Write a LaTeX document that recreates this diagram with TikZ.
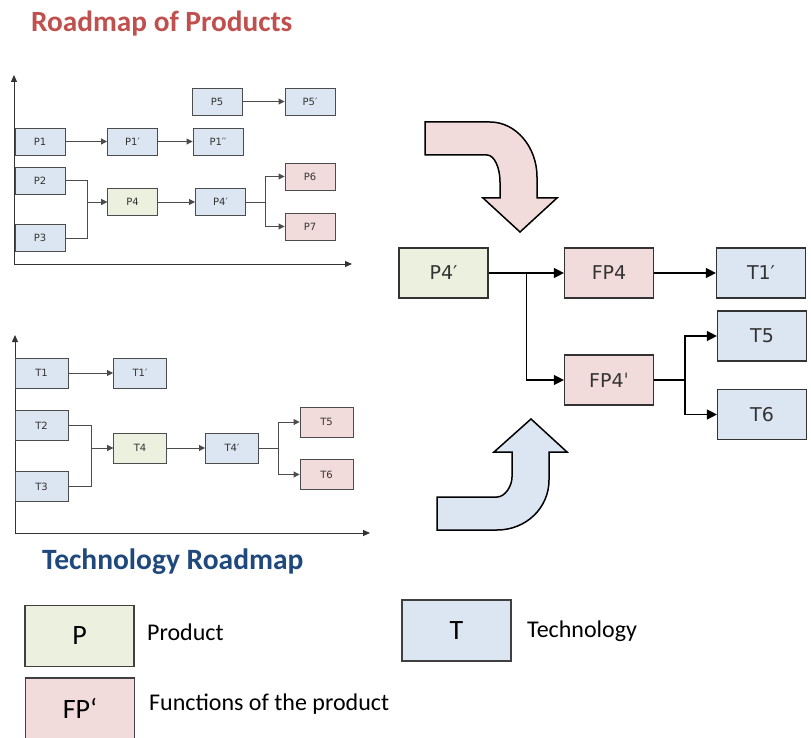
\documentclass[tikz,border=0pt]{standalone}
\usepackage{fontspec}
\setmainfont{Carlito}
\newfontfamily\boxfont{DejaVu Sans}
\usetikzlibrary{arrows.meta}
\definecolor{tblue}{HTML}{DCE6F2}
\definecolor{pgreen}{HTML}{EBF1DE}
\definecolor{fpink}{HTML}{F2DCDB}
\definecolor{titlered}{HTML}{C0504D}
\definecolor{titleblue}{HTML}{1F497D}
\begin{document}
\begin{tikzpicture}
      [x=1pt,y=-1pt,every node/.style={inner sep=0pt,text=black!80},
       sbox/.style={draw=black!70,line width=0.9pt,minimum width=50pt,minimum height=27pt,font=\boxfont\fontsize{10}{10}\selectfont},
       tbox/.style={sbox,minimum width=53pt,minimum height=30pt},
       bbox/.style={draw=black!80,line width=1.2pt,minimum width=89pt,minimum height=50pt,font=\boxfont\fontsize{19}{19}\selectfont},
       lbox/.style={draw=black!75,line width=1.4pt,minimum width=109pt,minimum height=61pt,font=\fontsize{28}{28}\selectfont,text=black},
       ltext/.style={anchor=west,font=\fontsize{24}{24}\selectfont,text=black},
       con/.style={draw=black!70,line width=0.9pt,-{Triangle[length=6pt,width=6pt]}},
       bcon/.style={draw=black,line width=1.3pt,-{Triangle[length=10pt,width=10pt]}},
       axis/.style={draw=black!80,line width=1pt,-{Triangle[length=7pt,width=6pt]}},
       bentarrow/.style={draw=black,line width=1.5pt}]
	\useasboundingbox (0,0) rectangle (811,738);

	% titles
	\node (tprod) [anchor=west,font=\bfseries\fontsize{29.3}{29.3}\selectfont,text=titlered] at (31,24) {Roadmap of Products};
	\node (ttech) [anchor=west,font=\bfseries\fontsize{29.5}{29.5}\selectfont,text=titleblue] at (42,562) {Technology Roadmap};

	% product roadmap
	\coordinate (po) at (14,264);
	\draw[axis] (po) -- (14,75);
	\draw[axis] (po) -- (352,264);
	\node (p5)  [sbox,fill=tblue]  at (217,101.5)   {P5};
	\node (p5a) [sbox,fill=tblue]  at (310,101.5)   {P5′};
	\node (p1)  [sbox,fill=tblue]  at (40,141.5)    {P1};
	\node (p1a) [sbox,fill=tblue]  at (132.5,141.5) {P1′};
	\node (p1b) [sbox,fill=tblue]  at (218,141.5)   {P1′′};
	\node (p2)  [sbox,fill=tblue]  at (40,180.5)    {P2};
	\node (p3)  [sbox,fill=tblue]  at (40,238)      {P3};
	\node (p4)  [sbox,fill=pgreen] at (132.5,202)   {P4};
	\node (p4a) [sbox,fill=tblue]  at (220.5,202)   {P4′};
	\node (p6)  [sbox,fill=fpink]  at (310,176.5)   {P6};
	\node (p7)  [sbox,fill=fpink]  at (310,226.5)   {P7};

	% technology roadmap
	\coordinate (to) at (15,533);
	\draw[axis] (to) -- (15,335);
	\draw[axis] (to) -- (370,533);
	\node (t1)  [tbox,fill=tblue]  at (41.5,373)   {T1};
	\node (t1a) [tbox,fill=tblue]  at (140,373)    {T1′};
	\node (t2)  [tbox,fill=tblue]  at (41.5,425.5) {T2};
	\node (t3)  [tbox,fill=tblue]  at (41.5,486.5) {T3};
	\node (t4)  [tbox,fill=pgreen] at (140,448)    {T4};
	\node (t4a) [tbox,fill=tblue]  at (232,448)    {T4′};
	\node (t5)  [tbox,fill=fpink]  at (326.5,422)  {T5};
	\node (t6)  [tbox,fill=fpink]  at (326.5,474.5) {T6};

	% combined
	\node (rp4)  [bbox,fill=pgreen] at (443.5,273) {P4′};
	\node (fp4)  [bbox,fill=fpink]  at (609,273)   {FP4};
	\node (rt1)  [bbox,fill=tblue]  at (761,273)   {T1′};
	\node (fp4a) [bbox,fill=fpink]  at (609,380)   {FP4ˈ};
	\node (rt5)  [bbox,fill=tblue]  at (762,336)   {T5};
	\node (rt6)  [bbox,fill=tblue]  at (762,414.5) {T6};

	\foreach \from/\to in {p5/p5a,p1/p1a,p1a/p1b,p4/p4a,t1/t1a,t4/t4a}
	  \draw[con] (\from) -- (\to);
	\foreach \from/\to/\d in {p2/p4/22,p3/p4/22,p4a/p6/19,p4a/p7/19,t2/t4/23,t3/t4/23,t4a/t5/19,t4a/t6/19}
	  \draw[con] (\from.east) -- ++(\d,0) |- (\to.west);
	\foreach \from/\to in {rp4/fp4,fp4/rt1}
	  \draw[bcon] (\from) -- (\to);
	\foreach \from/\to/\d in {rp4/fp4a/38,fp4a/rt5/31,fp4a/rt6/31}
	  \draw[bcon] (\from.east) -- ++(\d,0) |- (\to.west);

	% bent arrows
	\draw[bentarrow,fill=fpink] (425,122) -- (490,122) .. controls (516,122) and (537,147) .. (537,177)
	  -- (537,198) -- (557,198) -- (520,232) -- (483,198) -- (500,198) -- (500,182)
	  .. controls (500,167) and (494,155) .. (487,155) -- (425,155) -- cycle;
	\draw[bentarrow,fill=tblue] (437,530) -- (437,497) -- (497,497) .. controls (505,497) and (512,486) .. (512,477)
	  -- (512,452) -- (494,452) -- (531,419) -- (567,452) -- (549,452) -- (549,480)
	  .. controls (549,508) and (526,530) .. (497,530) -- cycle;

	% legend
	\node (lp)  [lbox,fill=pgreen] at (79.5,636)   {P};
	\node (lt)  [lbox,fill=tblue]  at (456.5,630.5) {T};
	\node (lfp) [lbox,fill=fpink]  at (80,708.5)   {FP‘};
	\node (lpt)  [ltext] at (147,632) {Product};
	\node (ltt)  [ltext] at (527,631) {Technology};
	\node (lfpt) [ltext] at (149,704) {Functions of the product};
      \end{tikzpicture}
\end{document}
